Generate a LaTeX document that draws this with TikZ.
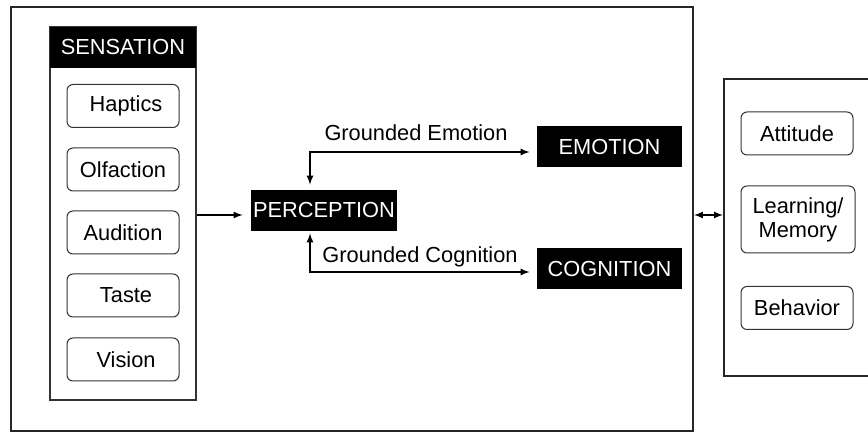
\documentclass[tikz,border=0pt]{standalone}
\usepackage{fontspec}
\setmainfont{Liberation Sans}
\usetikzlibrary{positioning}
\usetikzlibrary{arrows}

\begin{document}
\begin{tikzpicture}
	[x=0.5pt,y=-0.5pt,
	font=\fontsize{10.9}{12}\selectfont,
	frame/.style={draw=black!85, line width=1pt, inner sep=0pt},
	column/.style={draw=black!80, line width=0.6pt, inner sep=0pt, minimum width=73pt},
	title/.style={fill=black, text=white, inner sep=0pt, minimum height=20.5pt},
	item/.style={draw=black!80, rounded corners=3pt, line width=0.5pt, minimum width=56pt, minimum height=21.5pt, inner sep=1pt, align=center},
	link/.style={->, >=latex, line width=0.55pt}]

\useasboundingbox (0,0) rectangle (868,432);
\clip (0,0) rectangle (868,432);

% containers
\node [frame, minimum width=341pt, minimum height=212pt] (outer) at (352,219) {};
\node [frame, minimum width=88pt, minimum height=148.5pt] (outcome) at (812,227.5) {};

% sensation column
\node [column, minimum height=186.5pt] (sensbox) at (123,213.5) {};
\node [title, minimum width=73pt] (sensation) at (123,47.5) {SENSATION};
\node [item] (haptics) at (123,106) {~Haptics};
\node [item] (olfaction) at (123,169.5) {Olfaction};
\node [item] (audition) at (123,232.5) {Audition};
\node [item] (taste) at (123,295.5) {~Taste};
\node [item] (vision) at (123,359.5) {~Vision};

% perception, emotion, cognition
\node [title, minimum width=73pt] (perception) at (324,210.5) {PERCEPTION};
\node [title, minimum width=72.5pt] (emotion) at (609.5,146.5) {EMOTION};
\node [title, minimum width=72.5pt] (cognition) at (609.5,268.5) {COGNITION};

\node (emolabel) at (416,133) {Grounded Emotion};
\node (coglabel) at (420,257) {Grounded Cognition};

% outcomes
\node [item] (attitude) at (797,133.5) {Attitude};
\node [item, minimum height=33.5pt, minimum width=57pt] (memory) at (798,219.5) {Learning/\\Memory};
\node [item] (behavior) at (797,308) {Behavior};

% connectors
\coordinate (senslink) at (220,215);
\coordinate (emoturn) at (310,152);
\coordinate (cogturn) at (310,272);
\coordinate (outlink) at (708,215);

\draw [link, shorten >=4pt] (sensbox.east |- senslink) -- (perception.west |- senslink);
\draw [link, <->, shorten <=2.5pt, shorten >=3.5pt] (perception.north -| emoturn) -- (emoturn) -- (emotion.west |- emoturn);
\draw [link, <->, shorten <=1pt, shorten >=3.5pt] (perception.south -| cogturn) -- (cogturn) -- (cognition.west |- cogturn);
\draw [link, <->] (outer.east |- outlink) -- (outcome.west |- outlink);

\end{tikzpicture}
\end{document}
